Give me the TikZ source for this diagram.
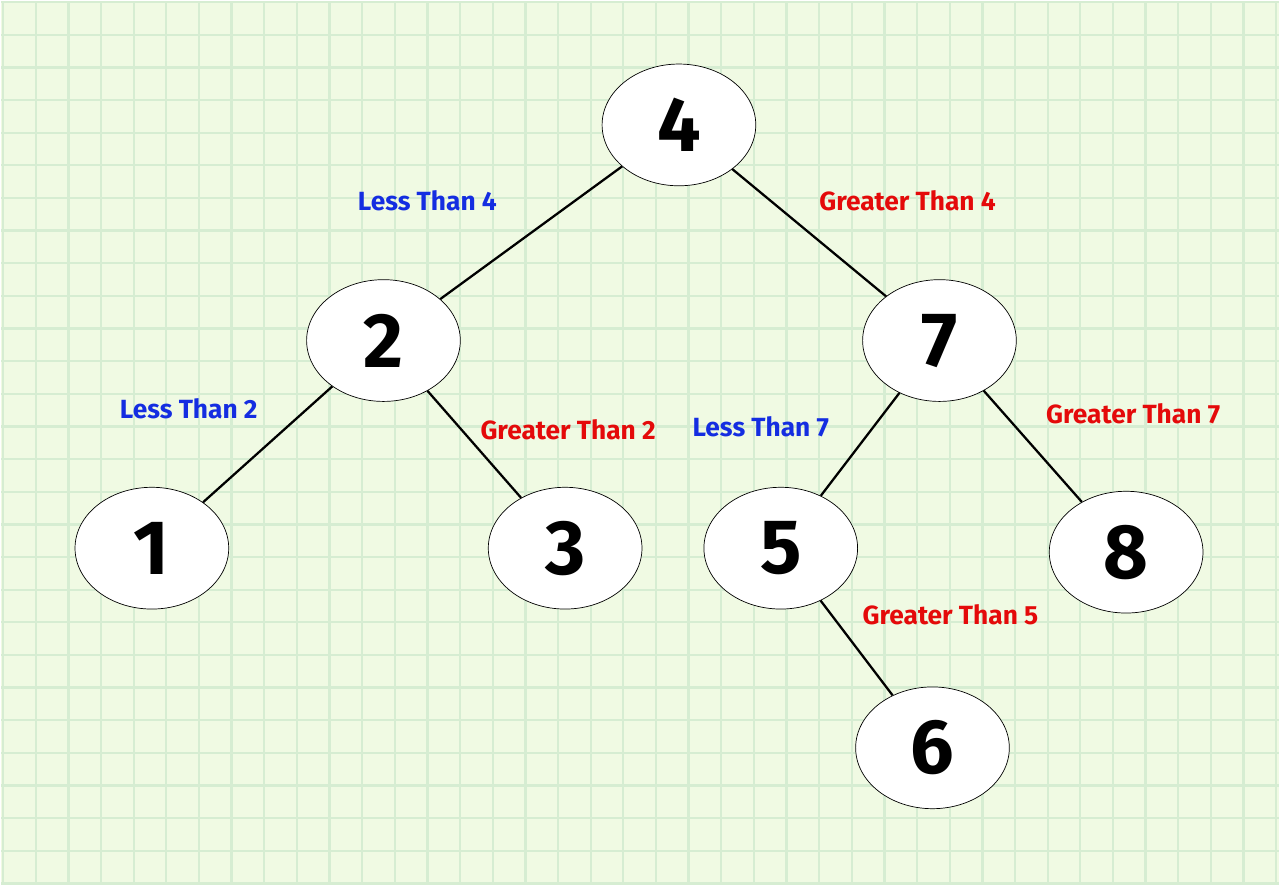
\documentclass[tikz,border=0pt]{standalone}
\usepackage{fontspec}
\setmainfont{Fira Sans}
\usepackage{tikz}
\usetikzlibrary{shapes.geometric}
\definecolor{paper}{RGB}{240,250,227}
\definecolor{gridline}{RGB}{214,237,210}
\definecolor{lessblue}{RGB}{20,45,225}
\definecolor{morered}{RGB}{228,10,10}
\tikzset{
  key/.style={draw,ellipse,fill=white,minimum width=3.08cm,minimum height=2.44cm,inner sep=0pt,font=\fontsize{44}{44}\selectfont\bfseries},
  less/.style={text=lessblue,font=\fontsize{15}{15}\selectfont\bfseries},
  more/.style={text=morered,font=\fontsize{15}{15}\selectfont\bfseries}
}
\begin{document}
\begin{tikzpicture}[x=0.02cm,y=-0.02cm]
\fill[paper] (0,0) rectangle (1280,884);
\foreach \k in {0,...,39} {
  \draw[gridline,line width=1.3pt] ({2+32.7*\k},0) -- ({2+32.7*\k},884);
}
\foreach \k in {0,...,27} {
  \draw[gridline,line width=1.3pt] (0,{1+32.7*\k}) -- (1280,{1+32.7*\k});
}
\useasboundingbox (0,0) rectangle (1280,884);
\node[key] at (679,124) (N4) {4};
\node[key] at (383,340) (N2) {2};
\node[key] at (940,340) (N7) {7};
\node[key] at (151,548) (N1) {1};
\node[key] at (565,548) (N3) {3};
\node[key] at (781,548) (N5) {5};
\node[key] at (1127,552) (N8) {8};
\node[key] at (933,748) (N6) {6};
\node[less] at (427,200) (L4) {Less Than 4};
\node[more] at (908,200) (G4) {Greater Than 4};
\node[less] at (188,408) (L2) {Less Than 2};
\node[more] at (568,429) (G2) {Greater Than 2};
\node[less] at (761,426) (L7) {Less Than 7};
\node[more] at (1134,413) (G7) {Greater Than 7};
\node[more] at (951,615) (G5) {Greater Than 5};
\draw[line width=1.3pt] (N4) -- (N2);
\draw[line width=1.3pt] (N4) -- (N7);
\draw[line width=1.3pt] (N2) -- (N1);
\draw[line width=1.3pt] (N2) -- (N3);
\draw[line width=1.3pt] (N7) -- (N5);
\draw[line width=1.3pt] (N7) -- (N8);
\draw[line width=1.3pt] (N5) -- (N6);
\end{tikzpicture}
\end{document}
